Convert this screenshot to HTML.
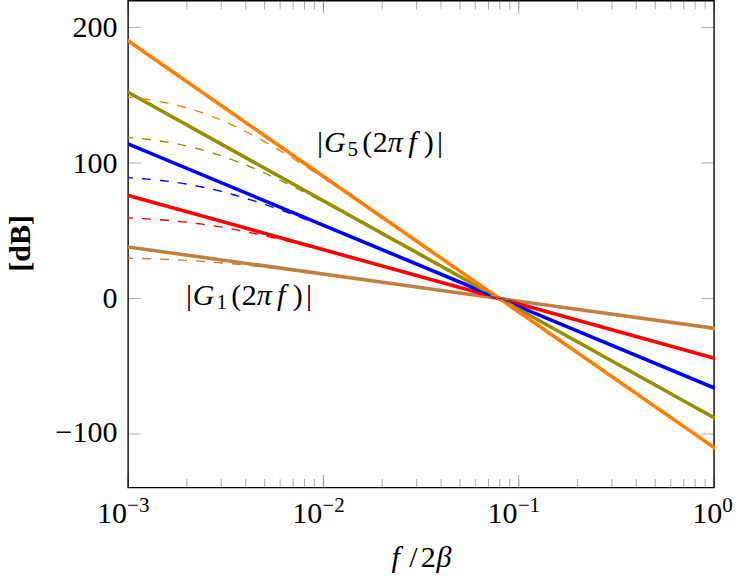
<!DOCTYPE html>
<html><head><meta charset="utf-8"><title>Bode magnitude plot</title>
<style>
html,body{margin:0;padding:0;background:#fff;font-family:"Liberation Serif",serif;}
body{width:746px;height:584px;overflow:hidden;}
svg{display:block;position:absolute;left:0;top:0;}
svg text{font-family:"Liberation Serif",serif;fill:#000;}
</style></head><body>
<svg width="746" height="584" viewBox="0 0 746 584" role="img" aria-label="Bode magnitude plot of G1..G5 versus f/2beta">

<defs>
<clipPath id="clip-0">
<path clip-rule="nonzero" d="M 41.9055 -0.3814 L 236.5376 -0.3814 L 236.5376 161.3943 L 41.9055 161.3943 Z"/>
</clipPath>
<clipPath id="clip-1">
<path clip-rule="nonzero" d="M 41.9055 -0.3814 L 236.5376 -0.3814 L 236.5376 161.3943 L 41.9055 161.3943 Z"/>
</clipPath>
<clipPath id="clip-2">
<path clip-rule="nonzero" d="M 41.9055 -0.3814 L 236.5376 -0.3814 L 236.5376 161.3943 L 41.9055 161.3943 Z"/>
</clipPath>
<clipPath id="clip-3">
<path clip-rule="nonzero" d="M 41.9055 -0.3814 L 236.5376 -0.3814 L 236.5376 161.3943 L 41.9055 161.3943 Z"/>
</clipPath>
<clipPath id="clip-4">
<path clip-rule="nonzero" d="M 41.9055 -0.3814 L 236.5376 -0.3814 L 236.5376 161.3943 L 41.9055 161.3943 Z"/>
</clipPath>
<clipPath id="clip-5">
<path clip-rule="nonzero" d="M 41.9055 -0.3814 L 236.5376 -0.3814 L 236.5376 161.3943 L 41.9055 161.3943 Z"/>
</clipPath>
<clipPath id="clip-6">
<path clip-rule="nonzero" d="M 41.9055 -0.3814 L 236.5376 -0.3814 L 236.5376 161.3943 L 41.9055 161.3943 Z"/>
</clipPath>
<clipPath id="clip-7">
<path clip-rule="nonzero" d="M 41.9055 -0.3814 L 236.5376 -0.3814 L 236.5376 161.3943 L 41.9055 161.3943 Z"/>
</clipPath>
<clipPath id="clip-8">
<path clip-rule="nonzero" d="M 41.9055 -0.3814 L 236.5376 -0.3814 L 236.5376 161.3943 L 41.9055 161.3943 Z"/>
</clipPath>
<clipPath id="clip-9">
<path clip-rule="nonzero" d="M 41.9055 -0.3814 L 236.5376 -0.3814 L 236.5376 161.3943 L 41.9055 161.3943 Z"/>
</clipPath>
</defs>
<g transform="matrix(3.01595,0,0,3.01652,1.6152,1.1506)">
<path fill="none" stroke-width="0.22" stroke-linecap="butt" stroke-linejoin="miter" stroke="rgb(50%, 50%, 50%)" stroke-opacity="1" stroke-miterlimit="10" d="M -194.275688 0.227281 L -194.275688 3.059312 M -174.779594 0.227281 L -174.779594 3.059312 M -163.37725 0.227281 L -163.37725 3.059312 M -155.287406 0.227281 L -155.287406 3.059312 M -149.010063 0.227281 L -149.010063 3.059312 M -143.881156 0.227281 L -143.881156 3.059312 M -139.545219 0.227281 L -139.545219 3.059312 M -135.791313 0.227281 L -135.791313 3.059312 M -132.478813 0.227281 L -132.478813 3.059312 M -129.513969 0.227281 L -129.513969 3.059312 M -110.021781 0.227281 L -110.021781 3.059312 M -98.619438 0.227281 L -98.619438 3.059312 M -90.529594 0.227281 L -90.529594 3.059312 M -84.25225 0.227281 L -84.25225 3.059312 M -79.123344 0.227281 L -79.123344 3.059312 M -74.787406 0.227281 L -74.787406 3.059312 M -71.0335 0.227281 L -71.0335 3.059312 M -67.721 0.227281 L -67.721 3.059312 M -64.756156 0.227281 L -64.756156 3.059312 M -45.263969 0.227281 L -45.263969 3.059312 M -33.861625 0.227281 L -33.861625 3.059312 M -25.767875 0.227281 L -25.767875 3.059312 M -19.494438 0.227281 L -19.494438 3.059312 M -14.365531 0.227281 L -14.365531 3.059312 M -10.029594 0.227281 L -10.029594 3.059312 M -6.275688 0.227281 L -6.275688 3.059312 M -2.963188 0.227281 L -2.963188 3.059312 M -194.275688 161.621812 L -194.275688 158.785875 M -174.779594 161.621812 L -174.779594 158.785875 M -163.37725 161.621812 L -163.37725 158.785875 M -155.287406 161.621812 L -155.287406 158.785875 M -149.010063 161.621812 L -149.010063 158.785875 M -143.881156 161.621812 L -143.881156 158.785875 M -139.545219 161.621812 L -139.545219 158.785875 M -135.791313 161.621812 L -135.791313 158.785875 M -132.478813 161.621812 L -132.478813 158.785875 M -129.513969 161.621812 L -129.513969 158.785875 M -110.021781 161.621812 L -110.021781 158.785875 M -98.619438 161.621812 L -98.619438 158.785875 M -90.529594 161.621812 L -90.529594 158.785875 M -84.25225 161.621812 L -84.25225 158.785875 M -79.123344 161.621812 L -79.123344 158.785875 M -74.787406 161.621812 L -74.787406 158.785875 M -71.0335 161.621812 L -71.0335 158.785875 M -67.721 161.621812 L -67.721 158.785875 M -64.756156 161.621812 L -64.756156 158.785875 M -45.263969 161.621812 L -45.263969 158.785875 M -33.861625 161.621812 L -33.861625 158.785875 M -25.767875 161.621812 L -25.767875 158.785875 M -19.494438 161.621812 L -19.494438 158.785875 M -14.365531 161.621812 L -14.365531 158.785875 M -10.029594 161.621812 L -10.029594 158.785875 M -6.275688 161.621812 L -6.275688 158.785875 M -2.963188 161.621812 L -2.963188 158.785875 " transform="matrix(1, 0, 0, -1, 236.221, 161.489)"/>
<path fill="none" stroke-width="0.22" stroke-linecap="butt" stroke-linejoin="miter" stroke="rgb(50%, 50%, 50%)" stroke-opacity="1" stroke-miterlimit="10" d="M -194.275688 0.227281 L -194.275688 4.477281 M -129.513969 0.227281 L -129.513969 4.477281 M -64.756156 0.227281 L -64.756156 4.477281 M 0.00165625 0.227281 L 0.00165625 4.477281 M -194.275688 161.621812 L -194.275688 157.371812 M -129.513969 161.621812 L -129.513969 157.371812 M -64.756156 161.621812 L -64.756156 157.371812 M 0.00165625 161.621812 L 0.00165625 157.371812 " transform="matrix(1, 0, 0, -1, 236.221, 161.489)"/>
<path fill="none" stroke-width="0.22" stroke-linecap="butt" stroke-linejoin="miter" stroke="rgb(50%, 50%, 50%)" stroke-opacity="1" stroke-miterlimit="10" d="M -194.275688 17.981187 L -190.025688 17.981187 M -194.275688 62.914781 L -190.025688 62.914781 M -194.275688 107.848375 L -190.025688 107.848375 M -194.275688 152.781969 L -190.025688 152.781969 M 0.00165625 17.981187 L -4.248344 17.981187 M 0.00165625 62.914781 L -4.248344 62.914781 M 0.00165625 107.848375 L -4.248344 107.848375 M 0.00165625 152.781969 L -4.248344 152.781969 " transform="matrix(1, 0, 0, -1, 236.221, 161.489)"/>
<path fill="none" stroke-width="0.45" stroke-linecap="butt" stroke-linejoin="miter" stroke="rgb(0%, 0%, 0%)" stroke-opacity="1" stroke-miterlimit="10" d="M -194.275688 0.227281 L -194.275688 161.621812 L 0.00165625 161.621812 L 0.00165625 0.227281 Z M -194.275688 0.227281 " transform="matrix(1, 0, 0, -1, 236.221, 161.489)"/>
<text x="31.621" y="172.9915" font-size="9.96">10</text>
<text x="41.583" y="169.3765" font-size="6.97">−3</text>
<text x="96.378" y="172.9915" font-size="9.96">10</text>
<text x="106.34" y="169.3765" font-size="6.97">−2</text>
<text x="161.135" y="172.9915" font-size="9.96">10</text>
<text x="171.098" y="169.3765" font-size="6.97">−1</text>
<text x="229.005" y="172.9915" font-size="9.96">10</text>
<text x="238.968" y="169.3765" font-size="6.97">0</text>
<text x="38.43" y="146.303" font-size="9.96" text-anchor="end">−100</text>
<text x="38.43" y="101.784" font-size="9.96" text-anchor="end">0</text>
<text x="38.43" y="56.851" font-size="9.96" text-anchor="end">100</text>
<text x="38.43" y="11.918" font-size="9.96" text-anchor="end">200</text>
<g clip-path="url(#clip-0)">
<path fill="none" stroke-width="1.19553" stroke-linecap="butt" stroke-linejoin="miter" stroke="rgb(75%, 50%, 25%)" stroke-opacity="1" stroke-miterlimit="10" d="M -213.767875 82.703844 L 19.489937 50.33275 " transform="matrix(1, 0, 0, -1, 236.221, 161.489)"/>
</g>
<g clip-path="url(#clip-1)">
<path fill="none" stroke-width="1.19553" stroke-linecap="butt" stroke-linejoin="miter" stroke="rgb(100%, 0%, 0%)" stroke-opacity="1" stroke-miterlimit="10" d="M -213.767875 102.489 L 19.489937 37.750719 " transform="matrix(1, 0, 0, -1, 236.221, 161.489)"/>
</g>
<g clip-path="url(#clip-2)">
<path fill="none" stroke-width="1.19553" stroke-linecap="butt" stroke-linejoin="miter" stroke="rgb(0%, 0%, 100%)" stroke-opacity="1" stroke-miterlimit="10" d="M -213.767875 122.278062 L 19.489937 25.164781 " transform="matrix(1, 0, 0, -1, 236.221, 161.489)"/>
</g>
<g clip-path="url(#clip-3)">
<path fill="none" stroke-width="1.19553" stroke-linecap="butt" stroke-linejoin="miter" stroke="rgb(150,144,0)" stroke-opacity="1" stroke-miterlimit="10" d="M -213.767875 142.067125 L 19.489937 12.58275 " transform="matrix(1, 0, 0, -1, 236.221, 161.489)"/>
</g>
<g clip-path="url(#clip-4)">
<path fill="none" stroke-width="1.19553" stroke-linecap="butt" stroke-linejoin="miter" stroke="rgb(100%, 50%, 0%)" stroke-opacity="1" stroke-miterlimit="10" d="M -213.767875 161.852281 L 19.489937 0.00071875 " transform="matrix(1, 0, 0, -1, 236.221, 161.489)"/>
</g>
<g clip-path="url(#clip-5)">
<path fill="none" stroke-width="0.45" stroke-dashoffset="-0.18" stroke-linecap="butt" stroke-linejoin="miter" stroke="rgb(75%, 50%, 25%)" stroke-opacity="1" stroke-dasharray="2.98883 2.98883" stroke-miterlimit="10" d="M -213.767875 76.496812 L -212.693656 76.489 L -211.619438 76.485094 L -208.396781 76.461656 L -207.322563 76.449937 L -206.248344 76.442125 L -203.025688 76.406969 L -201.951469 76.391344 L -200.87725 76.379625 L -198.728813 76.348375 L -197.654594 76.328844 L -196.580375 76.313219 L -195.506156 76.293687 L -194.431938 76.27025 L -193.361625 76.246812 L -191.213188 76.199937 L -190.138969 76.172594 L -186.916313 76.078844 L -184.767875 76.008531 L -183.693656 75.969469 L -181.545219 75.883531 L -179.396781 75.789781 L -178.322563 75.739 L -176.174125 75.629625 L -175.099906 75.571031 L -174.025688 75.508531 L -171.87725 75.375719 L -169.728813 75.235094 L -167.580375 75.078844 L -165.431938 74.914781 L -162.209281 74.64525 L -158.986625 74.352281 L -155.763969 74.035875 L -154.68975 73.9265 L -152.541313 73.699937 L -150.392875 73.465562 L -147.170219 73.102281 L -145.021781 72.852281 L -143.951469 72.723375 L -142.87725 72.594469 L -141.803031 72.461656 L -140.728813 72.33275 L -139.654594 72.199937 L -138.580375 72.063219 L -137.506156 71.930406 L -133.209281 71.383531 L -126.763969 70.539781 L -125.68975 70.39525 L -124.615531 70.254625 L -117.096 69.242906 L -116.021781 69.094469 L -114.947563 68.949937 L -113.873344 68.8015 L -112.799125 68.656969 L -111.724906 68.508531 L -110.650688 68.364 L -109.576469 68.215562 L -108.50225 68.071031 L -105.279594 67.625719 L -104.205375 67.481187 L -97.760063 66.590562 L -96.685844 66.446031 L -94.537406 66.149156 L -93.467094 66.000719 L -89.170219 65.406969 L -88.096 65.254625 L -76.279594 63.621812 L -75.205375 63.469469 L -67.685844 62.430406 L -66.611625 62.278062 L -65.537406 62.129625 L -64.463188 61.985094 L -63.388969 61.836656 L -62.31475 61.684312 L -60.166313 61.387437 L -59.092094 61.235094 L -58.017875 61.090562 L -56.943656 60.938219 L -52.646781 60.344469 L -51.572563 60.192125 L -44.053031 59.153062 L -42.982719 59.000719 L -39.760063 58.555406 L -38.685844 58.403062 L -34.388969 57.809312 L -33.31475 57.656969 L -25.795219 56.617906 L -24.721 56.465562 L -19.349906 55.723375 L -18.275688 55.571031 L -12.904594 54.828844 L -11.830375 54.6765 L -6.459281 53.934312 L -5.385063 53.781969 L -0.0139688 53.039781 " transform="matrix(1, 0, 0, -1, 236.221, 161.489)"/>
</g>
<g clip-path="url(#clip-6)">
<path fill="none" stroke-width="0.45" stroke-dashoffset="-0.18" stroke-linecap="butt" stroke-linejoin="miter" stroke="rgb(100%, 0%, 0%)" stroke-opacity="1" stroke-dasharray="2.98883 2.98883" stroke-miterlimit="10" d="M -213.767875 90.078844 L -212.693656 90.067125 L -211.619438 90.0515 L -210.545219 90.039781 L -209.471 90.02025 L -208.396781 90.004625 L -205.174125 89.946031 L -203.025688 89.899156 L -200.87725 89.844469 L -198.728813 89.781969 L -197.654594 89.746812 L -195.506156 89.668687 L -194.431938 89.625719 L -193.361625 89.58275 L -192.287406 89.535875 L -189.06475 89.371812 L -187.990531 89.309312 L -186.916313 89.242906 L -185.842094 89.172594 L -184.767875 89.098375 L -183.693656 89.02025 L -182.619438 88.938219 L -181.545219 88.852281 L -180.471 88.758531 L -179.396781 88.660875 L -178.322563 88.559312 L -177.248344 88.453844 L -176.174125 88.340562 L -175.099906 88.223375 L -174.025688 88.098375 L -172.951469 87.969469 L -171.87725 87.836656 L -170.803031 87.696031 L -169.728813 87.5515 L -168.654594 87.399156 L -167.580375 87.242906 L -166.506156 87.078844 L -165.431938 86.910875 L -164.357719 86.735094 L -163.2835 86.555406 L -162.209281 86.371812 L -161.135063 86.180406 L -160.060844 85.985094 L -158.986625 85.785875 L -157.912406 85.58275 L -156.838188 85.371812 L -155.763969 85.156969 L -153.615531 84.711656 L -152.541313 84.485094 L -150.392875 84.016344 L -149.318656 83.778062 L -148.244438 83.535875 L -147.170219 83.285875 L -146.096 83.039781 L -145.021781 82.785875 L -143.951469 82.531969 L -142.87725 82.274156 L -141.803031 82.012437 L -138.580375 81.215562 L -137.506156 80.946031 L -134.2835 80.125719 L -132.135063 79.571031 L -131.060844 79.289781 L -129.986625 79.012437 L -128.912406 78.727281 L -127.838188 78.446031 L -123.541313 77.305406 L -118.170219 75.860094 L -116.021781 75.274156 L -114.947563 74.985094 L -110.650688 73.813219 L -109.576469 73.516344 L -107.428031 72.930406 L -106.353813 72.633531 L -105.279594 72.340562 L -104.205375 72.043687 L -103.131156 71.750719 L -99.9085 70.860094 L -98.834281 70.567125 L -94.537406 69.379625 L -93.467094 69.08275 L -84.873344 66.70775 L -83.799125 66.406969 L -79.50225 65.219469 L -78.428031 64.918687 L -74.131156 63.731187 L -73.056938 63.430406 L -69.834281 62.539781 L -68.760063 62.239 L -62.31475 60.45775 L -61.240531 60.153062 L -58.017875 59.262437 L -56.943656 58.961656 L -55.869438 58.664781 L -54.795219 58.364 L -53.721 58.071031 L -51.572563 57.469469 L -50.498344 57.172594 L -49.424125 56.879625 L -48.349906 56.574937 L -47.275688 56.281969 L -46.201469 55.981187 L -44.053031 55.387437 L -42.982719 55.086656 L -41.9085 54.789781 L -40.834281 54.489 L -36.537406 53.3015 L -34.388969 52.699937 L -31.166313 51.809312 L -30.092094 51.508531 L -27.943656 50.914781 L -26.869438 50.614 L -25.795219 50.317125 L -24.721 50.016344 L -21.498344 49.125719 L -20.424125 48.824937 L -18.275688 48.231187 L -17.201469 47.930406 L -15.053031 47.336656 L -13.978813 47.035875 L -10.756156 46.14525 L -9.681938 45.844469 L -8.607719 45.547594 L -7.5335 45.246812 L -5.385063 44.653062 L -4.310844 44.352281 L -2.162406 43.758531 L -1.088188 43.45775 L -0.0139688 43.160875 " transform="matrix(1, 0, 0, -1, 236.221, 161.489)"/>
</g>
<g clip-path="url(#clip-7)">
<path fill="none" stroke-width="0.45" stroke-dashoffset="-0.18" stroke-linecap="butt" stroke-linejoin="miter" stroke="rgb(0%, 0%, 100%)" stroke-opacity="1" stroke-dasharray="2.98883 2.98883" stroke-miterlimit="10" d="M -213.767875 103.660875 L -211.619438 103.621812 L -209.471 103.574937 L -206.248344 103.492906 L -205.174125 103.461656 L -204.099906 103.4265 L -201.951469 103.348375 L -199.803031 103.262437 L -197.654594 103.160875 L -196.580375 103.106187 L -195.506156 103.047594 L -194.431938 102.981187 L -193.361625 102.914781 L -192.287406 102.844469 L -191.213188 102.766344 L -190.138969 102.684312 L -189.06475 102.598375 L -187.990531 102.504625 L -186.916313 102.406969 L -185.842094 102.3015 L -184.767875 102.192125 L -183.693656 102.074937 L -182.619438 101.949937 L -181.545219 101.821031 L -180.471 101.680406 L -179.396781 101.535875 L -178.322563 101.383531 L -177.248344 101.223375 L -176.174125 101.055406 L -175.099906 100.875719 L -174.025688 100.692125 L -172.951469 100.500719 L -171.87725 100.297594 L -170.803031 100.086656 L -169.728813 99.867906 L -168.654594 99.641344 L -167.580375 99.406969 L -166.506156 99.160875 L -165.431938 98.906969 L -164.357719 98.649156 L -163.2835 98.379625 L -162.209281 98.102281 L -161.135063 97.817125 L -160.060844 97.524156 L -158.986625 97.223375 L -157.912406 96.914781 L -156.838188 96.598375 L -155.763969 96.274156 L -154.68975 95.946031 L -153.615531 95.610094 L -152.541313 95.27025 L -151.467094 94.922594 L -150.392875 94.567125 L -149.318656 94.20775 L -148.244438 93.844469 L -147.170219 93.473375 L -146.096 93.098375 L -145.021781 92.719469 L -143.951469 92.336656 L -142.87725 91.949937 L -141.803031 91.559312 L -140.728813 91.164781 L -139.654594 90.766344 L -137.506156 89.961656 L -134.2835 88.731187 L -133.209281 88.317125 L -131.060844 87.481187 L -128.912406 86.637437 L -126.763969 85.785875 L -122.467094 84.067125 L -119.244438 82.766344 L -118.170219 82.328844 L -117.096 81.89525 L -116.021781 81.45775 L -114.947563 81.016344 L -112.799125 80.141344 L -111.724906 79.699937 L -110.650688 79.262437 L -107.428031 77.938219 L -106.353813 77.492906 L -104.205375 76.610094 L -103.131156 76.164781 L -102.056938 75.723375 L -100.982719 75.278062 L -99.9085 74.836656 L -95.611625 73.055406 L -94.537406 72.614 L -93.467094 72.164781 L -84.873344 68.602281 L -83.799125 68.153062 L -80.576469 66.817125 L -79.50225 66.367906 L -77.353813 65.477281 L -76.279594 65.028062 L -74.131156 64.137437 L -73.056938 63.688219 L -70.9085 62.797594 L -69.834281 62.348375 L -68.760063 61.903062 L -67.685844 61.453844 L -65.537406 60.563219 L -64.463188 60.121812 L -63.388969 59.6765 L -62.31475 59.227281 L -61.240531 58.774156 L -60.166313 58.328844 L -59.092094 57.879625 L -58.017875 57.438219 L -56.943656 56.985094 L -55.869438 56.539781 L -54.795219 56.090562 L -52.646781 55.199937 L -51.572563 54.746812 L -50.498344 54.3015 L -49.424125 53.860094 L -48.349906 53.406969 L -47.275688 52.965562 L -46.201469 52.516344 L -45.12725 52.071031 L -44.053031 51.621812 L -42.982719 51.172594 L -41.9085 50.727281 L -40.834281 50.278062 L -39.760063 49.83275 L -38.685844 49.383531 L -36.537406 48.492906 L -35.463188 48.039781 L -34.388969 47.594469 L -33.31475 47.14525 L -31.166313 46.254625 L -30.092094 45.805406 L -29.017875 45.360094 L -27.943656 44.910875 L -26.869438 44.465562 L -25.795219 44.016344 L -23.646781 43.125719 L -21.498344 42.227281 L -19.349906 41.336656 L -17.201469 40.438219 L -16.12725 39.992906 L -15.053031 39.543687 L -13.978813 39.098375 L -12.904594 38.649156 L -10.756156 37.758531 L -8.607719 36.860094 L -6.459281 35.969469 L -5.385063 35.52025 L -4.310844 35.074937 L -3.236625 34.625719 L -2.162406 34.180406 L -1.088188 33.731187 L -0.0139688 33.285875 " transform="matrix(1, 0, 0, -1, 236.221, 161.489)"/>
</g>
<g clip-path="url(#clip-8)">
<path fill="none" stroke-width="0.45" stroke-dashoffset="-0.18" stroke-linecap="butt" stroke-linejoin="miter" stroke="rgb(150,144,0)" stroke-opacity="1" stroke-dasharray="2.98883 2.98883" stroke-miterlimit="10" d="M -213.767875 117.242906 L -212.693656 117.219469 L -211.619438 117.192125 L -209.471 117.129625 L -208.396781 117.094469 L -206.248344 117.016344 L -204.099906 116.930406 L -201.951469 116.828844 L -199.803031 116.711656 L -198.728813 116.64525 L -196.580375 116.504625 L -194.431938 116.340562 L -193.361625 116.246812 L -192.287406 116.153062 L -191.213188 116.0515 L -190.138969 115.942125 L -189.06475 115.824937 L -187.990531 115.699937 L -186.916313 115.571031 L -185.842094 115.430406 L -184.767875 115.281969 L -183.693656 115.125719 L -182.619438 114.961656 L -181.545219 114.789781 L -180.471 114.602281 L -179.396781 114.410875 L -178.322563 114.20775 L -177.248344 113.992906 L -176.174125 113.766344 L -175.099906 113.531969 L -174.025688 113.285875 L -172.951469 113.028062 L -171.87725 112.758531 L -170.803031 112.477281 L -169.728813 112.188219 L -168.654594 111.883531 L -167.580375 111.571031 L -166.506156 111.242906 L -165.431938 110.906969 L -164.357719 110.559312 L -163.2835 110.199937 L -162.209281 109.828844 L -161.135063 109.449937 L -160.060844 109.059312 L -158.986625 108.656969 L -157.912406 108.246812 L -156.838188 107.824937 L -155.763969 107.39525 L -154.68975 106.95775 L -153.615531 106.508531 L -152.541313 106.055406 L -151.467094 105.590562 L -150.392875 105.117906 L -149.318656 104.637437 L -148.244438 104.153062 L -147.170219 103.660875 L -146.096 103.160875 L -145.021781 102.656969 L -143.951469 102.14525 L -142.87725 101.629625 L -141.803031 101.106187 L -139.654594 100.0515 L -138.580375 99.516344 L -137.506156 98.977281 L -136.431938 98.434312 L -135.357719 97.887437 L -134.2835 97.336656 L -132.135063 96.227281 L -131.060844 95.668687 L -128.912406 94.543687 L -127.838188 93.977281 L -124.615531 92.266344 L -122.467094 91.117906 L -119.244438 89.383531 L -116.021781 87.637437 L -113.873344 86.465562 L -112.799125 85.883531 L -111.724906 85.293687 L -109.576469 84.121812 L -108.50225 83.531969 L -107.428031 82.946031 L -106.353813 82.352281 L -102.056938 79.992906 L -100.982719 79.399156 L -99.9085 78.809312 L -97.760063 77.621812 L -96.685844 77.031969 L -94.537406 75.844469 L -93.467094 75.250719 L -88.096 72.281969 L -87.021781 71.684312 L -83.799125 69.903062 L -82.724906 69.305406 L -80.576469 68.117906 L -79.50225 67.52025 L -78.428031 66.9265 L -77.353813 66.328844 L -75.205375 65.141344 L -73.056938 63.946031 L -70.9085 62.758531 L -68.760063 61.563219 L -67.685844 60.969469 L -66.611625 60.371812 L -65.537406 59.778062 L -64.463188 59.188219 L -63.388969 58.594469 L -62.31475 57.996812 L -61.240531 57.39525 L -60.166313 56.797594 L -58.017875 55.610094 L -56.943656 55.008531 L -55.869438 54.418687 L -54.795219 53.813219 L -53.721 53.223375 L -52.646781 52.625719 L -51.572563 52.024156 L -50.498344 51.430406 L -49.424125 50.840562 L -48.349906 50.239 L -47.275688 49.649156 L -46.201469 49.047594 L -44.053031 47.860094 L -42.982719 47.258531 L -41.9085 46.664781 L -38.685844 44.871812 L -36.537406 43.684312 L -35.463188 43.08275 L -34.388969 42.489 L -32.240531 41.293687 L -31.166313 40.699937 L -30.092094 40.102281 L -29.017875 39.508531 L -27.943656 38.910875 L -26.869438 38.317125 L -24.721 37.121812 L -23.646781 36.528062 L -21.498344 35.33275 L -20.424125 34.739 L -18.275688 33.543687 L -17.201469 32.949937 L -16.12725 32.348375 L -15.053031 31.754625 L -13.978813 31.156969 L -12.904594 30.563219 L -11.830375 29.965562 L -10.756156 29.371812 L -7.5335 27.578844 L -6.459281 26.985094 L -5.385063 26.387437 L -4.310844 25.793687 L -2.162406 24.598375 L -1.088188 24.004625 L -0.0139688 23.406969 " transform="matrix(1, 0, 0, -1, 236.221, 161.489)"/>
</g>
<g clip-path="url(#clip-9)">
<path fill="none" stroke-width="0.45" stroke-dashoffset="-0.18" stroke-linecap="butt" stroke-linejoin="miter" stroke="rgb(100%, 50%, 0%)" stroke-opacity="1" stroke-dasharray="2.98883 2.98883" stroke-miterlimit="10" d="M -213.767875 130.824937 L -212.693656 130.793687 L -210.545219 130.723375 L -207.322563 130.594469 L -206.248344 130.543687 L -204.099906 130.434312 L -203.025688 130.371812 L -201.951469 130.305406 L -200.87725 130.235094 L -199.803031 130.160875 L -198.728813 130.078844 L -197.654594 129.992906 L -196.580375 129.899156 L -195.506156 129.8015 L -194.431938 129.696031 L -193.361625 129.58275 L -192.287406 129.461656 L -191.213188 129.33275 L -190.138969 129.196031 L -189.06475 129.0515 L -187.990531 128.899156 L -186.916313 128.735094 L -185.842094 128.559312 L -184.767875 128.375719 L -183.693656 128.180406 L -182.619438 127.973375 L -181.545219 127.754625 L -180.471 127.528062 L -179.396781 127.285875 L -178.322563 127.028062 L -177.248344 126.762437 L -176.174125 126.481187 L -175.099906 126.184312 L -174.025688 125.875719 L -172.951469 125.555406 L -171.87725 125.219469 L -170.803031 124.871812 L -169.728813 124.504625 L -168.654594 124.125719 L -167.580375 123.735094 L -166.506156 123.324937 L -165.431938 122.903062 L -164.357719 122.469469 L -163.2835 122.02025 L -162.209281 121.559312 L -161.135063 121.08275 L -160.060844 120.594469 L -158.986625 120.094469 L -157.912406 119.578844 L -156.838188 119.0515 L -155.763969 118.516344 L -154.68975 117.969469 L -153.615531 117.406969 L -152.541313 116.840562 L -151.467094 116.258531 L -150.392875 115.668687 L -149.318656 115.071031 L -148.244438 114.461656 L -147.170219 113.844469 L -146.096 113.223375 L -145.021781 112.590562 L -143.951469 111.953844 L -142.87725 111.309312 L -141.803031 110.656969 L -140.728813 109.996812 L -139.654594 109.33275 L -138.580375 108.664781 L -136.431938 107.313219 L -135.357719 106.629625 L -134.2835 105.942125 L -133.209281 105.250719 L -132.135063 104.555406 L -131.060844 103.856187 L -128.912406 102.449937 L -127.838188 101.742906 L -126.763969 101.031969 L -123.541313 98.887437 L -122.467094 98.164781 L -121.392875 97.446031 L -119.244438 96.000719 L -117.096 94.547594 L -113.873344 92.356187 L -112.799125 91.621812 L -111.724906 90.891344 L -107.428031 87.953844 L -106.353813 87.211656 L -105.279594 86.477281 L -103.131156 85.000719 L -102.056938 84.258531 L -99.9085 82.781969 L -98.834281 82.039781 L -97.760063 81.3015 L -94.537406 79.074937 L -93.467094 78.33275 L -87.021781 73.879625 L -85.947563 73.133531 L -83.799125 71.649156 L -82.724906 70.903062 L -81.650688 70.160875 L -80.576469 69.414781 L -78.428031 67.930406 L -76.279594 66.438219 L -75.205375 65.696031 L -74.131156 64.949937 L -73.056938 64.20775 L -70.9085 62.715562 L -69.834281 61.973375 L -67.685844 60.481187 L -66.611625 59.739 L -65.537406 58.992906 L -64.463188 58.258531 L -63.388969 57.516344 L -62.31475 56.77025 L -61.240531 56.016344 L -59.092094 54.524156 L -58.017875 53.785875 L -56.943656 53.031969 L -55.869438 52.293687 L -54.795219 51.539781 L -53.721 50.8015 L -52.646781 50.055406 L -51.572563 49.3015 L -50.498344 48.563219 L -49.424125 47.821031 L -48.349906 47.067125 L -47.275688 46.33275 L -46.201469 45.578844 L -45.12725 44.840562 L -44.053031 44.094469 L -42.982719 43.344469 L -41.9085 42.602281 L -40.834281 41.852281 L -39.760063 41.110094 L -38.685844 40.360094 L -36.537406 38.875719 L -35.463188 38.125719 L -34.388969 37.383531 L -33.31475 36.633531 L -31.166313 35.149156 L -30.092094 34.399156 L -29.017875 33.656969 L -24.721 30.672594 L -23.646781 29.930406 L -20.424125 27.692125 L -19.349906 26.949937 L -18.275688 26.199937 L -17.201469 25.45775 L -16.12725 24.70775 L -15.053031 23.965562 L -11.830375 21.727281 L -10.756156 20.985094 L -7.5335 18.746812 L -6.459281 18.004625 L -5.385063 17.254625 L -4.310844 16.512437 L -1.088188 14.274156 L -0.0139688 13.531969 " transform="matrix(1, 0, 0, -1, 236.221, 161.489)"/>
</g>
<text y="49.886" font-size="9.96"><tspan x="104.6">|</tspan><tspan x="106.87" font-style="italic">G</tspan><tspan x="114.7" y="51.38" font-size="6.97">5</tspan><tspan x="119.6" y="49.886">(</tspan><tspan x="123.04">2</tspan><tspan x="128.02" font-style="italic">π</tspan><tspan x="134.8" font-style="italic">f</tspan><tspan x="140.01">)</tspan><tspan x="144.4">|</tspan></text>
<text y="100.6018" font-size="9.96"><tspan x="61.15">|</tspan><tspan x="63.41" font-style="italic">G</tspan><tspan x="71.25" y="102.0958" font-size="6.97">1</tspan><tspan x="76.15" y="100.6018">(</tspan><tspan x="79.59">2</tspan><tspan x="84.57" font-style="italic">π</tspan><tspan x="91.35" font-style="italic">f</tspan><tspan x="96.56">)</tspan><tspan x="100.95">|</tspan></text>
<text y="187.4642" font-size="9.96"><tspan x="129.3" font-style="italic">f</tspan><tspan x="135.2">/</tspan><tspan x="138.98">2</tspan><tspan x="144.2" font-style="italic">β</tspan></text>
<text transform="translate(9.5352,89.697) rotate(-90)" x="0" y="0" font-size="9.96" font-weight="bold">[dB]</text>
</g>
</svg>
</body></html>
